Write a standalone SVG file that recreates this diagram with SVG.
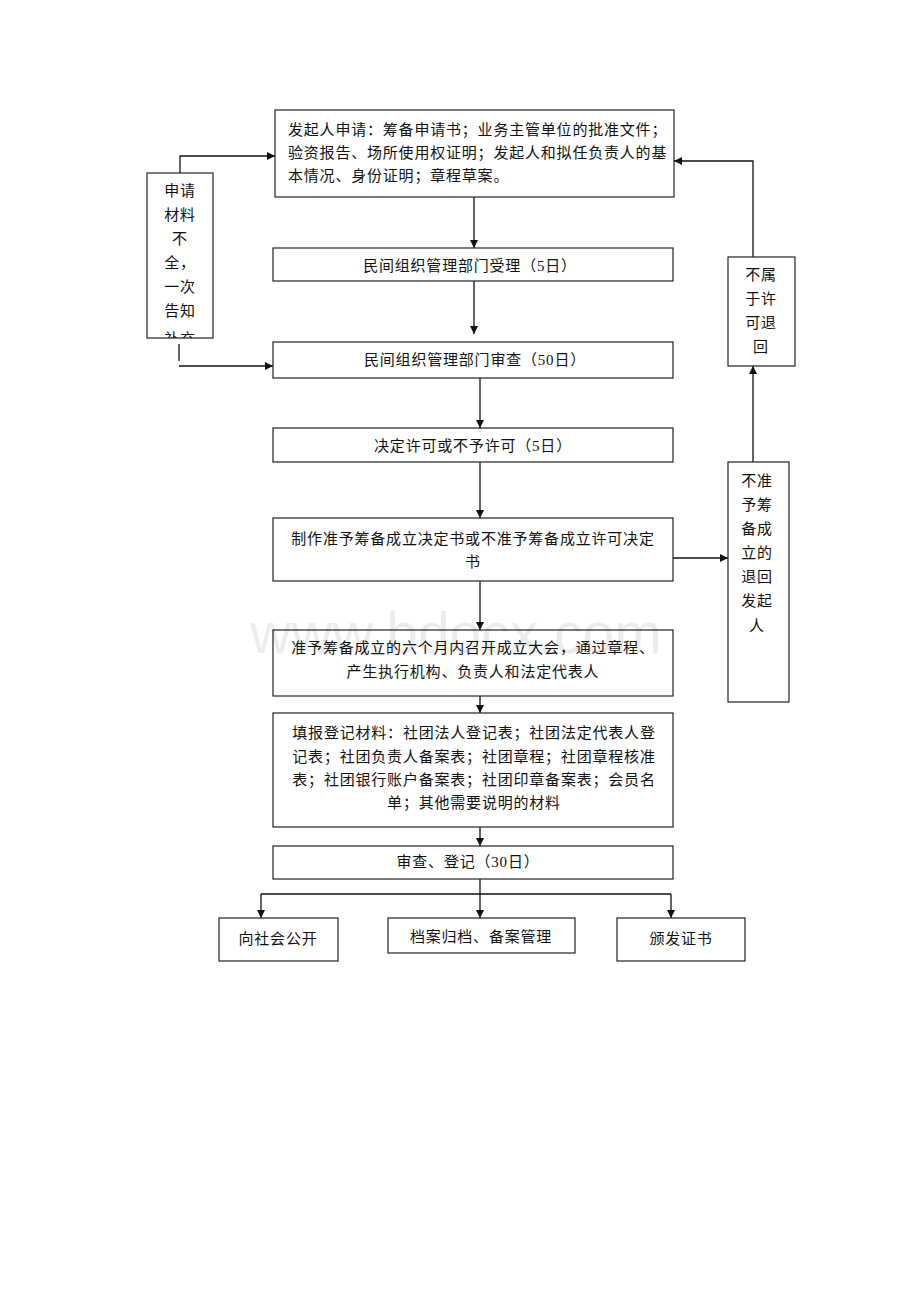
<svg xmlns="http://www.w3.org/2000/svg" width="920" height="1302" viewBox="0 0 920 1302">
<style>
.box{fill:#fff;stroke:#222;stroke-width:1.2}
.t{font-family:"Liberation Serif","Noto Sans CJK SC",serif;font-size:15px;letter-spacing:0.8px;fill:#111}
.c{text-anchor:middle}
.ln{fill:none;stroke:#111;stroke-width:1.3}
.wm{font-family:"Liberation Sans","DejaVu Sans",sans-serif;font-size:57px;fill:#000;fill-opacity:0.08}
</style>
<defs>
<marker id="ah" viewBox="0 0 10 10" refX="10" refY="5" markerWidth="8" markerHeight="8" markerUnits="userSpaceOnUse" orient="auto">
<path d="M0,0 L10,5 L0,10 z" fill="#111"/>
</marker>
<clipPath id="leftclip"><rect x="147" y="173" width="66" height="165"/></clipPath>
</defs>
<rect width="920" height="1302" fill="#fff"/>

<g id="connectors">
<path class="ln" d="M474,197 V248" marker-end="url(#ah)"/>
<path class="ln" d="M474,281 V334" marker-end="url(#ah)"/>
<path class="ln" d="M480,378 V428" marker-end="url(#ah)"/>
<path class="ln" d="M480,462 V518" marker-end="url(#ah)"/>
<path class="ln" d="M480,581 V630" marker-end="url(#ah)"/>
<path class="ln" d="M480,696 V713" marker-end="url(#ah)"/>
<path class="ln" d="M480,827 V846" marker-end="url(#ah)"/>
<path class="ln" d="M480,879 V894 M261,894 H671"/>
<path class="ln" d="M261,894 V918" marker-end="url(#ah)"/>
<path class="ln" d="M480,894 V918" marker-end="url(#ah)"/>
<path class="ln" d="M671,894 V918" marker-end="url(#ah)"/>
<path class="ln" d="M180,173 V156 H275" marker-end="url(#ah)"/>
<path class="ln" d="M179,344 V361" stroke="#666"/>
<path class="ln" d="M179,366 H273" marker-end="url(#ah)"/>
<path class="ln" d="M753,257 V161 H674" marker-end="url(#ah)"/>
<path class="ln" d="M753,462 V366" marker-end="url(#ah)"/>
<path class="ln" d="M673,558 H728" marker-end="url(#ah)"/>
</g>

<g id="n1">
<rect class="box" x="275" y="110" width="399" height="87"/>
<text class="t" x="288" y="135">发起人申请：筹备申请书；业务主管单位的批准文件；</text>
<text class="t" x="288" y="158">验资报告、场所使用权证明；发起人和拟任负责人的基</text>
<text class="t" x="288" y="181">本情况、身份证明；章程草案。</text>
</g>
<g id="n2">
<rect class="box" x="273" y="248" width="400" height="33"/>
<text class="t c" x="470" y="271">民间组织管理部门受理（5日）</text>
</g>
<g id="n3">
<rect class="box" x="273" y="342" width="400" height="36"/>
<text class="t c" x="475" y="365">民间组织管理部门审查（50日）</text>
</g>
<g id="n4">
<rect class="box" x="273" y="428" width="400" height="34"/>
<text class="t c" x="473" y="451">决定许可或不予许可（5日）</text>
</g>
<g id="n5">
<rect class="box" x="273" y="518" width="400" height="63"/>
<text class="t c" x="473" y="544">制作准予筹备成立决定书或不准予筹备成立许可决定</text>
<text class="t c" x="473" y="567">书</text>
</g>
<g id="n6">
<rect class="box" x="273" y="630" width="400" height="66"/>
<text class="t c" x="473" y="653">准予筹备成立的六个月内召开成立大会，通过章程、</text>
<text class="t c" x="473" y="677">产生执行机构、负责人和法定代表人</text>
</g>
<g id="n7">
<rect class="box" x="273" y="713" width="400" height="114"/>
<text class="t c" x="474" y="738">填报登记材料：社团法人登记表；社团法定代表人登</text>
<text class="t c" x="474" y="762">记表；社团负责人备案表；社团章程；社团章程核准</text>
<text class="t c" x="474" y="785">表；社团银行账户备案表；社团印章备案表；会员名</text>
<text class="t c" x="474" y="808">单；其他需要说明的材料</text>
</g>
<g id="n8">
<rect class="box" x="273" y="846" width="400" height="33"/>
<text class="t c" x="468" y="867">审查、登记（30日）</text>
</g>
<g id="n9">
<rect class="box" x="219" y="918" width="119" height="43"/>
<text class="t c" x="278" y="944">向社会公开</text>
</g>
<g id="n10">
<rect class="box" x="388" y="918" width="187" height="35"/>
<text class="t c" x="481" y="942">档案归档、备案管理</text>
</g>
<g id="n11">
<rect class="box" x="617" y="918" width="128" height="43"/>
<text class="t c" x="681" y="944">颁发证书</text>
</g>
<g id="n12">
<rect class="box" x="147" y="173" width="66" height="165"/>
<g clip-path="url(#leftclip)">
<text class="t c" x="180" y="196">申请</text>
<text class="t c" x="180" y="220">材料</text>
<text class="t c" x="180" y="244">不</text>
<text class="t c" x="180" y="268">全，</text>
<text class="t c" x="180" y="292">一次</text>
<text class="t c" x="180" y="316">告知</text>
<text class="t c" x="180" y="344">补充</text>
</g>
</g>
<g id="n13">
<rect class="box" x="728" y="257" width="67" height="109"/>
<text class="t c" x="761" y="280">不属</text>
<text class="t c" x="761" y="304">于许</text>
<text class="t c" x="761" y="328">可退</text>
<text class="t c" x="761" y="352">回</text>
</g>
<g id="n14">
<rect class="box" x="728" y="462" width="61" height="240"/>
<text class="t c" x="757" y="486">不准</text>
<text class="t c" x="757" y="510">予筹</text>
<text class="t c" x="757" y="534">备成</text>
<text class="t c" x="757" y="558">立的</text>
<text class="t c" x="757" y="582">退回</text>
<text class="t c" x="757" y="606">发起</text>
<text class="t c" x="757" y="631">人</text>
</g>
<text class="wm" x="250" y="653">www.bdocx.com</text>
</svg>
